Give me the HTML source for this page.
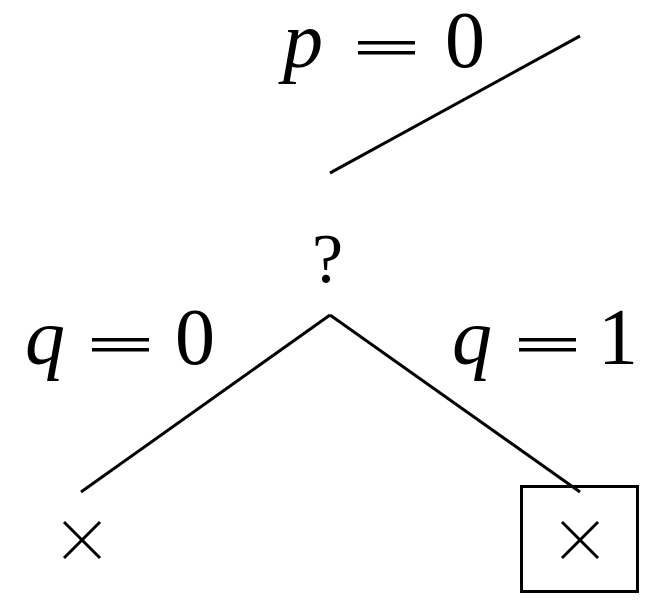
<!DOCTYPE html>
<html><head><style>html,body{margin:0;padding:0;background:#fff}</style></head>
<body>
<svg width="657" height="609" xmlns="http://www.w3.org/2000/svg" style="display:block">
<g stroke="#000" stroke-width="3" fill="none" stroke-linecap="butt">
<line x1="580" y1="36" x2="330" y2="173"/>
<line x1="330" y1="315" x2="81" y2="492"/>
<line x1="330" y1="315" x2="580" y2="492"/>
<rect x="521.5" y="486.5" width="116" height="105"/>
<line x1="64" y1="522" x2="100" y2="558"/>
<line x1="100" y1="522" x2="64" y2="558"/>
<line x1="562" y1="522" x2="598" y2="558"/>
<line x1="598" y1="522" x2="562" y2="558"/>
</g>
<g fill="#000">
<rect x="358" y="41" width="57" height="3.5"/>
<rect x="358" y="51" width="57" height="3.5"/>
<rect x="92" y="338" width="57" height="3.5"/>
<rect x="92" y="348" width="57" height="3.5"/>
<rect x="519" y="338" width="57" height="3.5"/>
<rect x="519" y="348" width="57" height="3.5"/>
</g>
<g font-family="Liberation Serif, serif" font-size="80" fill="#000">
<text x="283" y="67" font-style="italic">p</text>
<text x="445" y="67">0</text>
<text x="312" y="282" font-size="70">?</text>
<text x="25" y="364" font-style="italic">q</text>
<text x="175" y="364">0</text>
<text x="452" y="364" font-style="italic">q</text>
<text x="598" y="364">1</text>
</g>
</svg>
</body></html>
